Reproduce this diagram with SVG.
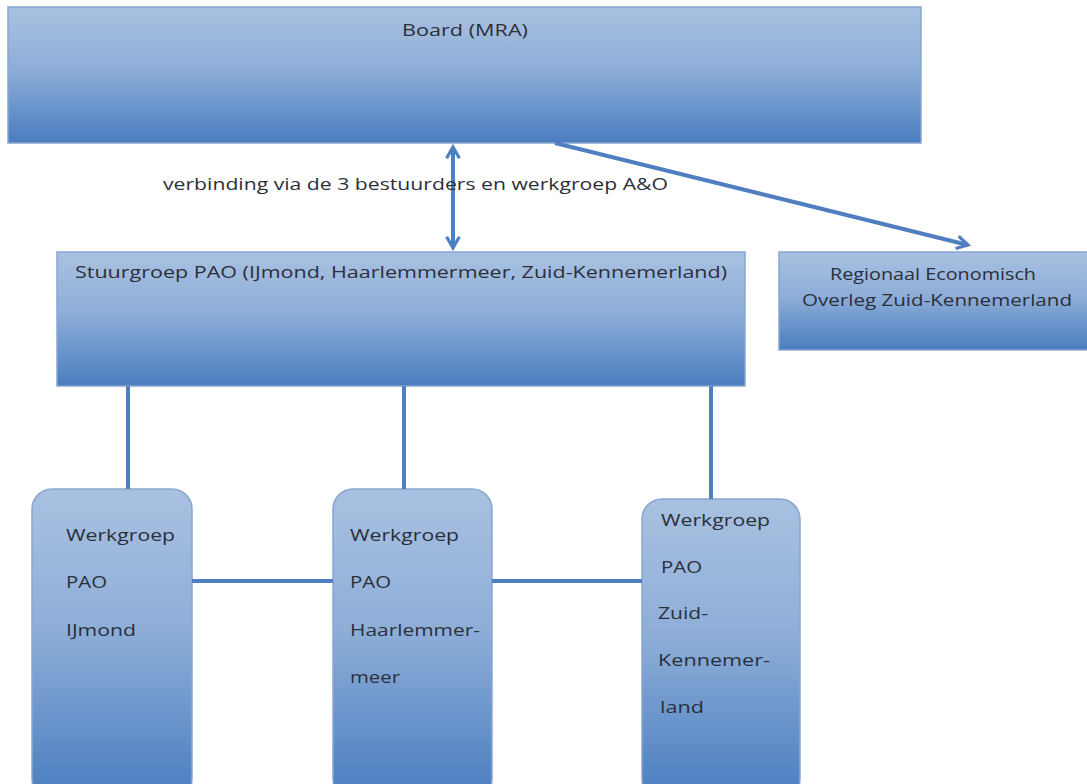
<svg xmlns="http://www.w3.org/2000/svg" width="1087" height="784" viewBox="0 0 1087 784">
<defs>
<linearGradient id="g" x1="0" y1="0" x2="0" y2="1">
<stop offset="0" stop-color="#a9c1e1"/>
<stop offset="0.45" stop-color="#8eaed8"/>
<stop offset="1" stop-color="#4a7dc0"/>
</linearGradient>
<marker id="ah" viewBox="0 0 10 10" refX="8" refY="5" markerWidth="4" markerHeight="4" orient="auto-start-reverse" markerUnits="strokeWidth">
<path d="M1,1 L8,5 L1,9" fill="none" stroke="#4f7fc0" stroke-width="2"/>
</marker>
</defs>
<style>
.box{fill:url(#g);stroke:#8aa6d0;stroke-width:1.5}
.t{font-family:"Open Sans","Liberation Sans",sans-serif;font-size:17px;fill:#2b2f3a}
.c{stroke:#4f7fc0;stroke-width:4;fill:none}
</style>
<rect width="1087" height="784" fill="#ffffff"/>
<g id="board">
<rect class="box" x="8" y="7" width="913" height="136"/>
<text class="t" x="402" y="36" textLength="126" lengthAdjust="spacingAndGlyphs">Board (MRA)</text>
</g>
<g id="stuurgroep">
<rect class="box" x="57" y="252" width="688" height="134"/>
<text class="t" x="75" y="278" textLength="652" lengthAdjust="spacingAndGlyphs">Stuurgroep PAO (IJmond, Haarlemmermeer, Zuid-Kennemerland)</text>
</g>
<g id="regionaal">
<rect class="box" x="779" y="252" width="312" height="98"/>
<text class="t" x="830" y="280" textLength="206" lengthAdjust="spacingAndGlyphs">Regionaal Economisch</text>
<text class="t" x="802" y="306" textLength="270" lengthAdjust="spacingAndGlyphs">Overleg Zuid-Kennemerland</text>
</g>
<g id="wg-ijmond">
<rect class="box" x="32" y="489" width="160" height="310" rx="20"/>
<text class="t" x="66" y="541" textLength="109" lengthAdjust="spacingAndGlyphs">Werkgroep</text>
<text class="t" x="66" y="588" textLength="41" lengthAdjust="spacingAndGlyphs">PAO</text>
<text class="t" x="66" y="636" textLength="70" lengthAdjust="spacingAndGlyphs">IJmond</text>
</g>
<g id="wg-haarlemmermeer">
<rect class="box" x="333" y="489" width="159" height="310" rx="20"/>
<text class="t" x="350" y="541" textLength="109" lengthAdjust="spacingAndGlyphs">Werkgroep</text>
<text class="t" x="350" y="588" textLength="41" lengthAdjust="spacingAndGlyphs">PAO</text>
<text class="t" x="350" y="636" textLength="130" lengthAdjust="spacingAndGlyphs">Haarlemmer-</text>
<text class="t" x="350" y="683" textLength="50" lengthAdjust="spacingAndGlyphs">meer</text>
</g>
<g id="wg-zuid-kennemerland">
<rect class="box" x="642" y="499" width="158" height="300" rx="20"/>
<text class="t" x="661" y="526" textLength="109" lengthAdjust="spacingAndGlyphs">Werkgroep</text>
<text class="t" x="661" y="573" textLength="41" lengthAdjust="spacingAndGlyphs">PAO</text>
<text class="t" x="658" y="619" textLength="50" lengthAdjust="spacingAndGlyphs">Zuid-</text>
<text class="t" x="658" y="666" textLength="112" lengthAdjust="spacingAndGlyphs">Kennemer-</text>
<text class="t" x="660" y="713" textLength="44" lengthAdjust="spacingAndGlyphs">land</text>
</g>
<g id="connectors">
<line class="c" x1="453" y1="147" x2="453" y2="248" marker-start="url(#ah)" marker-end="url(#ah)"/>
<line class="c" x1="555" y1="143" x2="968" y2="245" marker-end="url(#ah)"/>
<line class="c" x1="128" y1="386" x2="128" y2="489"/>
<line class="c" x1="404" y1="386" x2="404" y2="489"/>
<line class="c" x1="711" y1="386" x2="711" y2="499"/>
<line class="c" x1="192" y1="581" x2="333" y2="581"/>
<line class="c" x1="492" y1="581" x2="642" y2="581"/>
<text class="t" x="163" y="190" textLength="505" lengthAdjust="spacingAndGlyphs">verbinding via de 3 bestuurders en werkgroep A&amp;O</text>
</g>
</svg>
